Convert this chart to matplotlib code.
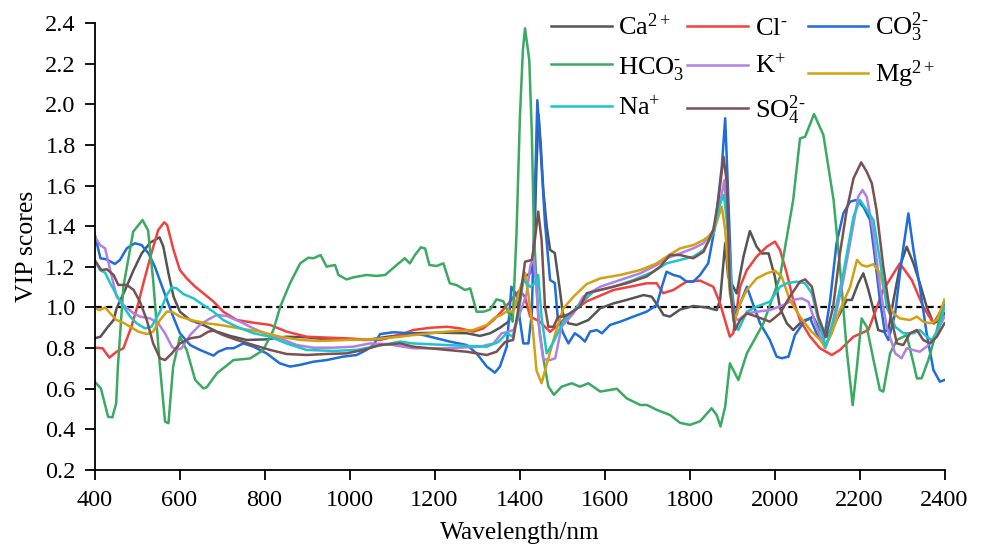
import matplotlib
matplotlib.use("Agg")
import matplotlib.pyplot as plt

plt.rcParams['font.family'] = ['Liberation Serif', 'DejaVu Serif']
plt.rcParams['mathtext.fontset'] = 'custom'
plt.rcParams['mathtext.rm'] = 'Liberation Serif'
plt.rcParams['mathtext.it'] = 'Liberation Serif:italic'
plt.rcParams['mathtext.bf'] = 'Liberation Serif:bold'

# ---------------- data ----------------
ca_wl = [400,414,432,445,452,472,492,511,531,553,562,574,586,601,625,656,688,719,758,805,852,899,946,993,1040,1087,1150,1213,1276,1307,1331,1354,1374,1386,1401,1413,1425,1434,1440,1445,1450,1456,1464,1472,1483,1495,1502,1515,1534,1562,1590,1621,1652,1692,1711,1727,1739,1754,1778,1809,1840,1864,1872,1884,1891,1911,1927,1942,1958,1970,1986,2001,2013,2029,2044,2060,2076,2091,2107,2123,2146,2170,2182,2197,2209,2221,2233,2244,2256,2268,2280,2295,2311,2327,2342,2358,2374,2389,2400]
ca_vip = [0.848,0.856,0.906,0.938,0.996,1.086,1.184,1.266,1.319,1.345,1.299,1.168,1.053,0.979,0.938,0.914,0.881,0.860,0.840,0.843,0.856,0.853,0.843,0.843,0.840,0.855,0.873,0.876,0.873,0.860,0.873,0.900,0.930,0.990,1.078,1.152,1.168,1.250,1.700,1.950,1.800,1.578,1.400,1.283,1.268,1.086,0.971,0.922,0.914,0.938,0.996,1.020,1.037,1.061,1.053,1.004,0.963,0.955,0.990,1.007,1.000,0.987,1.037,1.316,1.151,1.069,1.250,1.376,1.299,1.266,1.266,1.151,0.996,0.922,0.889,0.922,0.938,0.955,0.889,0.856,0.938,1.037,1.037,1.119,1.168,1.086,0.987,0.889,0.881,0.889,1.037,1.201,1.299,1.217,1.119,1.004,0.922,0.938,0.971]

cl_wl = [400,419,435,452,468,487,503,515,534,550,564,571,586,601,617,637,656,680,703,735,774,813,852,899,954,993,1033,1072,1119,1150,1190,1229,1260,1291,1315,1339,1362,1378,1389,1401,1413,1425,1448,1472,1495,1519,1558,1621,1660,1699,1723,1738,1762,1793,1825,1856,1872,1888,1895,1903,1919,1935,1958,1982,2001,2013,2029,2044,2060,2084,2107,2135,2154,2186,2221,2256,2295,2323,2350,2374,2400]
cl_vip = [0.802,0.799,0.753,0.782,0.799,0.906,1.020,1.119,1.267,1.381,1.419,1.406,1.283,1.184,1.143,1.102,1.070,1.029,0.979,0.938,0.925,0.914,0.881,0.856,0.851,0.848,0.843,0.840,0.864,0.889,0.900,0.905,0.897,0.881,0.897,0.938,0.990,1.030,1.060,1.086,1.050,0.955,0.930,0.880,0.922,0.971,1.030,1.086,1.102,1.119,1.119,1.070,1.086,1.127,1.132,1.102,1.020,0.905,0.856,0.873,1.102,1.184,1.250,1.299,1.324,1.283,1.168,1.037,0.938,0.856,0.799,0.766,0.791,0.856,0.889,1.086,1.217,1.135,1.004,0.922,1.012]

co3_wl = [400,414,428,448,460,476,495,511,527,542,562,582,601,625,648,680,691,711,727,750,774,805,836,860,883,915,946,985,1017,1040,1056,1072,1103,1142,1174,1205,1236,1276,1299,1323,1342,1354,1370,1381,1393,1401,1409,1421,1429,1436,1442,1449,1460,1472,1483,1490,1503,1515,1530,1542,1554,1566,1582,1594,1613,1637,1668,1699,1723,1735,1746,1762,1778,1793,1809,1825,1844,1860,1876,1884,1890,1899,1907,1915,1935,1946,1966,1989,2005,2017,2033,2048,2072,2084,2099,2115,2131,2146,2162,2178,2193,2209,2225,2236,2248,2260,2268,2284,2299,2315,2327,2342,2358,2374,2389,2400]
co3_vip = [1.365,1.242,1.237,1.214,1.234,1.291,1.316,1.307,1.266,1.201,1.086,0.971,0.873,0.815,0.791,0.763,0.782,0.799,0.799,0.823,0.807,0.774,0.725,0.709,0.717,0.733,0.741,0.758,0.766,0.791,0.815,0.869,0.878,0.873,0.864,0.848,0.832,0.815,0.774,0.709,0.679,0.709,0.807,1.102,1.061,0.938,0.823,0.823,0.971,1.550,2.020,1.800,1.416,1.135,1.120,0.950,0.873,0.823,0.873,0.856,0.832,0.881,0.889,0.873,0.914,0.930,0.955,0.979,1.012,1.102,1.176,1.160,1.151,1.127,1.127,1.160,1.217,1.398,1.693,1.931,1.611,1.102,0.955,0.996,1.102,1.037,0.922,0.840,0.758,0.750,0.758,0.864,0.938,0.946,0.873,0.823,1.037,1.316,1.463,1.521,1.529,1.496,1.430,1.250,1.037,0.873,0.840,0.971,1.234,1.463,1.283,1.102,0.873,0.692,0.635,0.643]

hco3_wl = [400,415,432,442,451,455,468,491,513,526,538,554,566,574,585,601,617,637,656,664,688,727,766,797,821,837,860,884,903,915,932,946,966,974,993,1009,1040,1064,1084,1111,1130,1142,1154,1168,1178,1188,1205,1221,1236,1252,1272,1284,1299,1315,1331,1346,1362,1374,1384,1393,1401,1408,1413,1423,1429,1434,1445,1456,1468,1481,1499,1523,1542,1562,1590,1613,1629,1652,1684,1700,1723,1754,1778,1801,1825,1852,1864,1873,1884,1895,1915,1935,1974,2013,2044,2060,2072,2093,2115,2139,2154,2170,2184,2194,2205,2217,2233,2248,2256,2272,2288,2311,2327,2335,2346,2362,2382,2400]
hco3_vip = [0.635,0.602,0.462,0.459,0.528,0.708,1.102,1.373,1.430,1.380,1.135,0.708,0.438,0.430,0.708,0.856,0.790,0.643,0.602,0.607,0.676,0.741,0.749,0.790,0.889,1.004,1.119,1.217,1.245,1.242,1.258,1.201,1.209,1.160,1.138,1.148,1.160,1.155,1.160,1.209,1.242,1.217,1.258,1.296,1.290,1.209,1.204,1.217,1.119,1.110,1.086,1.094,0.979,0.979,0.990,1.040,1.030,0.975,0.930,1.365,1.939,2.267,2.374,2.218,1.857,1.365,0.920,0.750,0.610,0.570,0.610,0.627,0.610,0.627,0.586,0.594,0.600,0.553,0.520,0.520,0.496,0.471,0.432,0.422,0.440,0.504,0.471,0.414,0.512,0.725,0.643,0.774,0.922,1.151,1.529,1.832,1.840,1.952,1.849,1.529,1.200,0.790,0.519,0.708,0.946,0.905,0.741,0.594,0.586,0.774,0.840,0.864,0.725,0.651,0.651,0.741,0.889,1.036]

k_wl = [400,413,425,437,452,468,492,507,531,550,566,582,593,605,625,648,668,688,711,742,774,805,837,876,915,962,1009,1048,1087,1150,1229,1307,1339,1358,1374,1386,1401,1417,1425,1433,1440,1448,1456,1472,1484,1499,1527,1550,1590,1637,1684,1723,1746,1778,1809,1833,1856,1872,1882,1891,1903,1915,1935,1958,1989,2021,2044,2064,2080,2099,2119,2138,2162,2182,2197,2207,2217,2233,2248,2264,2284,2299,2311,2327,2342,2358,2374,2400]
k_vip = [1.352,1.307,1.291,1.184,1.053,1.012,0.971,0.955,0.946,0.922,0.873,0.807,0.791,0.799,0.864,0.914,0.941,0.963,0.958,0.930,0.897,0.869,0.848,0.815,0.802,0.802,0.807,0.823,0.820,0.799,0.799,0.807,0.823,0.873,0.881,0.889,0.971,1.070,1.200,1.250,1.086,0.860,0.745,0.741,0.750,0.905,0.971,1.053,1.102,1.135,1.168,1.209,1.242,1.266,1.291,1.316,1.381,1.512,1.627,1.365,0.955,0.938,0.971,0.979,0.987,1.012,1.037,1.045,1.028,0.905,0.799,0.905,1.135,1.365,1.545,1.578,1.545,1.365,1.102,0.905,0.774,0.750,0.799,0.790,0.782,0.807,0.848,0.955]

mg_wl = [400,413,425,437,452,468,484,503,523,538,554,570,582,601,633,664,695,742,789,837,884,931,993,1056,1119,1150,1229,1291,1323,1342,1354,1374,1385,1401,1413,1421,1431,1440,1452,1464,1484,1503,1527,1558,1590,1637,1684,1723,1746,1778,1809,1833,1856,1868,1876,1884,1895,1907,1919,1935,1958,1982,2001,2017,2036,2060,2084,2107,2119,2135,2154,2178,2194,2205,2217,2233,2248,2264,2280,2295,2319,2335,2350,2366,2382,2400]
mg_vip = [0.996,0.987,1.000,0.971,0.938,0.925,0.905,0.881,0.869,0.881,0.938,0.979,0.979,0.955,0.935,0.922,0.914,0.897,0.881,0.856,0.840,0.835,0.840,0.843,0.856,0.864,0.881,0.889,0.914,0.950,0.960,0.985,0.975,1.090,1.170,1.060,0.900,0.690,0.627,0.720,0.870,0.995,1.053,1.115,1.143,1.160,1.184,1.217,1.250,1.291,1.307,1.332,1.365,1.447,1.496,1.381,1.069,0.938,1.020,1.086,1.143,1.168,1.181,1.151,1.037,0.955,0.889,0.840,0.807,0.873,0.987,1.102,1.234,1.209,1.201,1.213,1.168,1.037,0.971,0.946,0.938,0.955,0.930,0.922,0.938,1.037]

na_wl = [400,413,425,437,452,468,484,499,519,534,554,570,582,593,609,633,656,680,703,735,774,813,852,899,962,1017,1056,1119,1150,1229,1323,1350,1370,1384,1397,1409,1425,1436,1444,1452,1464,1480,1503,1534,1574,1621,1668,1715,1746,1778,1809,1833,1856,1872,1881,1891,1903,1915,1935,1958,1989,2013,2029,2052,2072,2088,2107,2121,2138,2162,2186,2201,2217,2233,2248,2264,2284,2303,2327,2342,2358,2370,2386,2400]
na_vip = [1.234,1.184,1.171,1.119,1.061,1.004,0.955,0.922,0.897,0.905,0.979,1.061,1.099,1.094,1.066,1.045,1.012,0.979,0.938,0.905,0.873,0.856,0.823,0.791,0.786,0.791,0.807,0.832,0.823,0.815,0.807,0.830,0.873,0.856,0.960,1.135,1.102,1.119,1.160,0.950,0.774,0.830,0.930,1.000,1.078,1.102,1.135,1.176,1.217,1.234,1.250,1.283,1.365,1.512,1.553,1.365,0.938,0.889,0.979,1.004,1.028,1.102,1.119,1.127,1.119,1.069,0.905,0.807,0.938,1.168,1.447,1.529,1.480,1.430,1.234,1.004,0.905,0.873,0.873,0.889,0.856,0.840,0.889,1.004]

so4_wl = [400,416,429,445,456,476,492,507,523,538,554,566,582,601,625,648,668,680,703,735,774,813,852,899,946,993,1033,1072,1119,1150,1229,1276,1323,1346,1366,1385,1401,1413,1429,1436,1444,1452,1460,1468,1480,1491,1503,1519,1542,1558,1605,1652,1699,1731,1754,1778,1809,1833,1856,1868,1880,1888,1895,1907,1919,1935,1958,1989,2013,2036,2060,2072,2088,2103,2121,2138,2154,2170,2186,2204,2217,2229,2240,2256,2272,2288,2303,2319,2335,2350,2366,2382,2400]
so4_vip = [1.234,1.184,1.188,1.160,1.111,1.111,1.086,1.028,0.938,0.823,0.750,0.741,0.774,0.823,0.848,0.856,0.881,0.886,0.864,0.840,0.815,0.791,0.771,0.766,0.771,0.774,0.791,0.815,0.823,0.807,0.791,0.782,0.766,0.782,0.830,0.840,1.040,1.225,1.234,1.330,1.472,1.332,1.004,0.905,0.905,0.955,0.955,0.971,1.004,1.070,1.094,1.119,1.152,1.201,1.258,1.258,1.242,1.274,1.381,1.529,1.742,1.611,1.102,0.889,0.938,0.971,0.955,0.930,0.971,1.053,1.127,1.138,1.102,0.955,0.856,1.004,1.266,1.480,1.636,1.714,1.668,1.611,1.480,1.201,0.971,0.823,0.815,0.873,0.889,0.840,0.823,0.856,0.922]

HY = '\u2010'  # short hyphen as used in the reference legend
labels = ['Ca$^{2+}$', 'Cl$^{' + HY + '}$', 'CO$_3^{2' + HY + '}$', 'HCO$_3^{' + HY + '}$',
          'K$^{+}$', 'Mg$^{2+}$', 'Na$^{+}$', 'SO$_4^{2' + HY + '}$']
colors = ['#545454', '#F0413F', '#1F6CDB', '#3AAA62',
          '#B27FE4', '#D4A00F', '#1CC6C8', '#7B5051']
series = [(ca_wl, ca_vip), (cl_wl, cl_vip), (co3_wl, co3_vip), (hco3_wl, hco3_vip),
          (k_wl, k_vip), (mg_wl, mg_vip), (na_wl, na_vip), (so4_wl, so4_vip)]

xticks = [400, 600, 800, 1000, 1200, 1400, 1600, 1800, 2000, 2200, 2400]
yticks = [0.2, 0.4, 0.6, 0.8, 1.0, 1.2, 1.4, 1.6, 1.8, 2.0, 2.2, 2.4]
threshold = 1.0

# ---------------- figure ----------------
fig = plt.figure(figsize=(9.82, 5.5), dpi=100)
ax = fig.add_axes([94.5 / 982, 80 / 550, 850 / 982, 447 / 550])

handles = []
for (wl, vip), lab, col in zip(series, labels, colors):
    h, = ax.plot(wl, vip, color=col, lw=1.8, label=lab)
    handles.append(h)

ax.axhline(threshold, color='black', lw=1.6, ls=(0, (3, 1.8)), zorder=0)

ax.set_xlim(400, 2400)
ax.set_ylim(0.2, 2.4)
ax.set_xticks(xticks)
ax.set_yticks(yticks)
ax.set_yticklabels([f'{v:.1f}' for v in yticks])
ax.set_xticklabels([str(v) for v in xticks])

for s in ['top', 'right']:
    ax.spines[s].set_visible(False)
for s in ['left', 'bottom']:
    ax.spines[s].set_linewidth(1.3)
ax.tick_params(axis='both', direction='out', length=7.5, width=1.3,
               labelsize=17.5, colors='black')
ax.tick_params(axis='x', pad=7)
ax.tick_params(axis='y', pad=6)

ax.set_xlabel('Wavelength/nm', fontsize=18.3, labelpad=8)
ax.set_ylabel('VIP scores', fontsize=18.5, labelpad=5)

order = [0, 3, 6, 1, 4, 7, 2, 5]
leg = fig.legend([handles[i] for i in order], [labels[i] for i in order],
                 ncol=3, loc='upper left', bbox_to_anchor=(551 / 982, 1 - 11 / 550),
                 frameon=False, fontsize=19, handlelength=2.3, handletextpad=0.25,
                 columnspacing=0.1, labelspacing=0.55, borderpad=0, borderaxespad=0)

fig.savefig('out.png', dpi=100)
